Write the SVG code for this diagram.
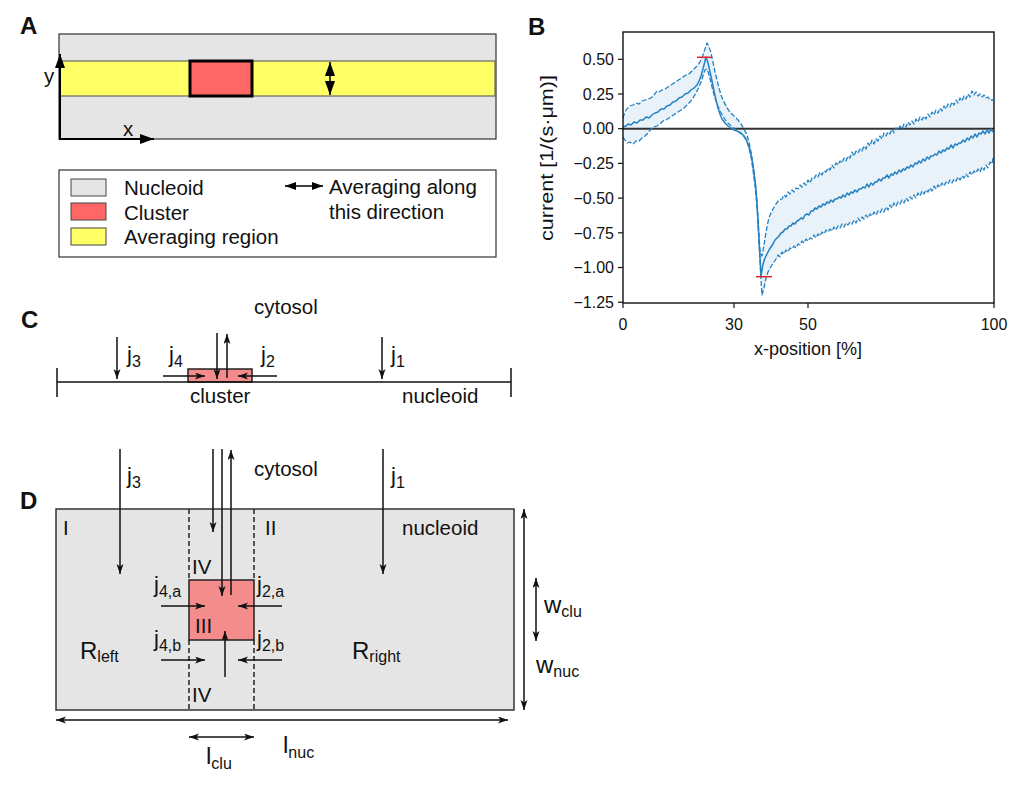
<svg xmlns="http://www.w3.org/2000/svg" width="1015" height="786" viewBox="0 0 1015 786">
<style>
text{font-family:"Liberation Sans",Arial,sans-serif;fill:#111}
.lbl{font-size:20.5px}
.jl{font-size:22px}
.pl{font-size:24px;font-weight:bold}
.tk{font-size:16px}
.ax{font-size:18px}
.big{font-size:24px}
.sub{font-size:16px}
.sub2{font-size:16px}
.ln{stroke:#111;stroke-width:1.5;fill:none}
.nuc{fill:#e5e5e5;stroke:#333;stroke-width:1.5}
.clu{fill:#f48c8c;stroke:#222;stroke-width:1.5}
.dash{stroke:#222;stroke-width:1.5;stroke-dasharray:5 3;fill:none}
.blue{stroke:#2380c2;fill:none;stroke-width:1.5;stroke-linejoin:round}
.bd{stroke:#2380c2;fill:none;stroke-width:1.3;stroke-dasharray:5 2;stroke-linejoin:round}
</style>
<defs>
<marker id="ah" markerUnits="userSpaceOnUse" markerWidth="10" markerHeight="8" refX="10" refY="3.5" orient="auto-start-reverse"><path d="M0,0 L10,3.5 L0,7 L2.5,3.5 Z" fill="#111"/></marker>
<marker id="bigA" markerUnits="userSpaceOnUse" markerWidth="15" markerHeight="10" refX="14" refY="5" orient="auto-start-reverse"><path d="M0,0 L14,5 L0,10 Z" fill="#000"/></marker>
<marker id="leg" markerUnits="userSpaceOnUse" markerWidth="11" markerHeight="8" refX="11" refY="4" orient="auto-start-reverse"><path d="M0,0 L11,4 L0,8 Z" fill="#000"/></marker>
</defs>

<!-- Panel A -->
<g id="panelA">
<text class="pl" x="20" y="34">A</text>
<rect x="59" y="34" width="437" height="105" fill="#e5e5e5" stroke="#333" stroke-width="1.2"/>
<rect x="60" y="61" width="435" height="35" fill="#ffff66" stroke="#666" stroke-width="1.2"/>
<rect x="190" y="61" width="62" height="35" fill="#ff6666" stroke="#000" stroke-width="3"/>
<text class="lbl" x="44" y="83">y</text>
<text class="lbl" x="123" y="136">x</text>
</g>
<g id="legendA">
<rect x="59" y="170" width="437" height="87" fill="#fff" stroke="#333" stroke-width="1.2"/>
<rect x="71" y="179" width="35" height="17" fill="#e5e5e5" stroke="#444" stroke-width="1"/>
<rect x="71" y="203" width="35" height="17" fill="#ff6666" stroke="#444" stroke-width="1"/>
<rect x="71" y="228" width="35" height="17" fill="#ffff66" stroke="#444" stroke-width="1"/>
<text class="lbl" x="124" y="195">Nucleoid</text>
<text class="lbl" x="124" y="220">Cluster</text>
<text class="lbl" x="124" y="244">Averaging region</text>
<text class="lbl" x="329" y="194">Averaging along</text>
<text class="lbl" x="329" y="219">this direction</text>
</g>

<!-- Panel B -->
<g id="panelB">
<text class="pl" x="528" y="35">B</text>
<polygon fill="#2380c2" fill-opacity="0.1" points="623,118 633,105 648,99 665,89 683,77 698,65 707,43 713,62 721,95 732,114 744,129 751,152 755,181 758,218 760,250 762,256 766,232 773,209 780,200 797,190 813,178 830,167 847,157 863,147 880,136 897,128 913,122 930,116 947,107 963,98 973,92 985,96 993,100 993,158 980,171 960,179 937,189 913,197 887,209 860,220 837,228 820,235 803,242 787,251 776,259 770,268 764,288 762,295 760,260 758,222 755,186 751,157 747,142 741,133 732,127 720,111 711,83 707,69 703,76 699,87 693,98 684,108 672,116 660,124 648,133 639,141 630,142 623,137"/>
<line x1="623" y1="128.7" x2="994" y2="128.7" stroke="#333" stroke-width="2"/>
<path class="blue" d="M623,127 L626,126 L628,124 L631,125 L634,122 L637,123 L640,120 L643,120 L646,117 L649,118 L652,115 L655,113 L658,112 L661,109 L664,109 L667,106 L670,105 L673,102 L676,101 L679,98 L682,97 L685,94 L688,93 L691,90 L694,88 L697,85 L699,81 L701,76 L703,69 L705,61 L706,57 L708,63 L710,72 L712,81 L714,91 L716,100 L718,108 L720,114 L722,119 L725,123 L728,126 L731,128 L734,130 L737,131 L740,133 L743,135 L746,139 L748,144 L750,150 L752,159 L754,172 L756,190 L757,205 L758,222 L759,240 L760,258 L761,276 L762,270 L763,264 L765,258 L767,254 L769,250 L771,247 L773,244 L775,240 L777,238 L779,236 L781,233 L783,232 L785,229 L787,229 L789,226 L791,226 L793,223 L795,224 L797,221 L799,220 L801,218 L803,219 L805,215 L807,214 L809,215 L811,211 L813,211 L815,208 L817,209 L819,206 L821,207 L823,204 L825,205 L827,202 L829,203 L831,200 L833,202 L835,199 L837,199 L839,197 L841,198 L843,195 L845,197 L847,193 L849,195 L851,192 L853,193 L855,190 L857,192 L859,189 L861,189 L863,187 L865,188 L867,184 L869,187 L871,183 L873,185 L875,182 L877,182 L879,179 L881,181 L883,178 L885,178 L887,175 L889,178 L891,174 L893,175 L895,172 L897,174 L899,170 L901,172 L903,169 L905,170 L907,167 L909,168 L911,165 L913,167 L915,163 L917,164 L919,161 L921,163 L923,159 L925,161 L927,157 L929,159 L931,156 L933,156 L935,154 L937,155 L939,151 L941,153 L943,150 L945,151 L947,148 L949,149 L951,145 L953,148 L955,144 L957,145 L959,143 L961,143 L963,140 L965,142 L967,138 L969,140 L971,136 L973,138 L975,134 L977,137 L979,133 L981,134 L983,131 L985,134 L987,130 L989,133 L991,129 L993,132"/>
<path class="bd" d="M623,118 L625,112 L627,109 L630,106 L633,105 L636,103 L639,104 L642,101 L645,100 L648,99 L651,98 L654,95 L657,91 L659,92 L662,90 L665,89 L668,87 L671,85 L674,83 L677,81 L680,79 L683,77 L686,75 L689,74 L692,71 L695,68 L698,65 L700,62 L702,58 L704,52 L706,46 L707,43 L709,47 L711,53 L713,62 L715,72 L717,80 L719,88 L721,95 L723,100 L726,106 L729,111 L732,114 L735,117 L738,120 L741,124 L744,129 L747,135 L749,142 L751,152 L753,165 L755,181 L757,200 L758,218 L759,236 L760,250 L762,256 L764,245 L766,232 L768,222 L770,215 L773,209 L776,204 L779,200 L782,199 L784,195 L786,197 L788,192 L790,194 L792,190 L794,192 L796,188 L798,189 L800,185 L802,187 L804,183 L806,185 L808,180 L810,183 L812,178 L814,179 L816,175 L818,177 L820,172 L822,175 L824,171 L826,172 L828,168 L830,170 L832,165 L834,168 L836,163 L838,165 L840,161 L842,163 L844,158 L846,161 L848,156 L850,158 L852,152 L854,156 L856,151 L858,153 L860,149 L862,151 L864,146 L866,149 L868,143 L870,146 L872,140 L874,144 L876,139 L878,141 L880,136 L882,139 L884,133 L886,136 L888,132 L890,134 L892,129 L894,133 L896,128 L898,130 L900,126 L902,129 L904,124 L906,127 L908,122 L910,125 L912,121 L914,124 L916,119 L918,122 L920,117 L922,120 L924,116 L926,119 L928,114 L930,117 L932,112 L934,115 L936,110 L938,113 L940,108 L942,111 L944,106 L946,109 L948,104 L950,107 L952,102 L954,105 L956,100 L958,103 L960,98 L962,101 L964,96 L966,99 L968,94 L970,97 L972,91 L974,95 L976,92 L978,96 L980,94 L982,97 L984,95 L986,98 L988,97 L990,100 L993,100"/>
<path class="bd" d="M623,137 L625,140 L627,143 L630,142 L633,144 L636,141 L639,141 L642,138 L645,136 L648,133 L651,129 L654,127 L657,126 L660,124 L663,121 L666,120 L669,118 L672,116 L675,114 L678,112 L681,110 L684,108 L687,105 L690,102 L693,98 L696,93 L699,87 L701,82 L703,76 L705,70 L707,69 L709,75 L711,83 L713,91 L715,98 L717,104 L720,111 L723,116 L726,121 L729,124 L732,127 L735,129 L738,131 L741,133 L744,136 L747,142 L749,148 L751,157 L753,170 L755,186 L757,205 L758,222 L759,240 L760,260 L761,280 L762,295 L764,288 L766,278 L768,272 L770,268 L772,265 L774,262 L776,259 L778,255 L780,257 L782,252 L784,254 L786,250 L788,252 L790,248 L792,249 L794,246 L796,248 L798,244 L800,245 L802,241 L804,243 L806,239 L808,241 L810,238 L812,239 L814,235 L816,238 L818,234 L820,236 L822,232 L824,234 L826,230 L828,232 L830,229 L832,231 L834,227 L836,230 L838,226 L840,228 L842,224 L844,227 L846,223 L848,225 L850,222 L852,224 L854,220 L856,223 L858,218 L860,221 L862,217 L864,219 L866,215 L868,218 L870,214 L872,216 L874,212 L876,215 L878,211 L880,213 L882,209 L884,212 L886,207 L888,210 L890,205 L892,208 L894,203 L896,206 L898,202 L900,204 L902,200 L904,203 L906,198 L908,201 L910,197 L912,199 L914,195 L916,198 L918,193 L920,196 L922,191 L924,194 L926,190 L928,192 L930,188 L932,191 L934,186 L936,189 L938,185 L940,187 L942,183 L944,186 L946,182 L948,184 L950,180 L952,183 L954,179 L956,181 L958,177 L960,180 L962,176 L964,178 L966,174 L968,177 L970,172 L972,175 L974,171 L976,173 L978,169 L980,172 L982,167 L984,170 L986,165 L988,168 L990,162 L992,164 L993,158"/>
<line x1="697" y1="57.3" x2="712" y2="57.3" stroke="#e8202a" stroke-width="1.5"/>
<line x1="756" y1="276.7" x2="772" y2="276.7" stroke="#e8202a" stroke-width="1.5"/>
<rect x="623" y="32" width="371" height="271" fill="none" stroke="#111" stroke-width="1.4"/>
<g stroke="#111" stroke-width="1.2">
<line x1="618" y1="59.3" x2="623" y2="59.3"/><line x1="618" y1="94" x2="623" y2="94"/><line x1="618" y1="128.7" x2="623" y2="128.7"/><line x1="618" y1="163.4" x2="623" y2="163.4"/><line x1="618" y1="198.1" x2="623" y2="198.1"/><line x1="618" y1="232.8" x2="623" y2="232.8"/><line x1="618" y1="267.5" x2="623" y2="267.5"/><line x1="618" y1="302.2" x2="623" y2="302.2"/>
<line x1="623" y1="303" x2="623" y2="308"/><line x1="734" y1="303" x2="734" y2="308"/><line x1="808" y1="303" x2="808" y2="308"/><line x1="994" y1="303" x2="994" y2="308"/>
</g>
<g text-anchor="end">
<text class="tk" x="614" y="65">0.50</text><text class="tk" x="614" y="99.7">0.25</text><text class="tk" x="614" y="134.4">0.00</text><text class="tk" x="614" y="169.1">−0.25</text><text class="tk" x="614" y="203.8">−0.50</text><text class="tk" x="614" y="238.5">−0.75</text><text class="tk" x="614" y="273.2">−1.00</text><text class="tk" x="614" y="307.9">−1.25</text>
</g>
<g text-anchor="middle">
<text class="tk" x="623" y="330">0</text><text class="tk" x="734" y="330">30</text><text class="tk" x="808" y="330">50</text><text class="tk" x="994" y="330">100</text>
<text class="ax" x="808" y="355">x-position [%]</text>
<text class="ax" transform="translate(553,158) rotate(-90)" textLength="166" lengthAdjust="spacingAndGlyphs">current [1/(s·μm)]</text>
</g>
</g>

<!-- Panel C -->
<g id="panelC">
<text class="pl" x="21" y="328">C</text>
<text class="lbl" x="254" y="314">cytosol</text>
<rect class="clu" x="188" y="369" width="64" height="13"/>
<text class="lbl" x="190" y="403">cluster</text>
<text class="lbl" x="402" y="403">nucleoid</text>
<text class="jl" x="127" y="362">j<tspan class="sub" dy="5">3</tspan></text>
<text class="jl" x="169" y="362">j<tspan class="sub" dy="5">4</tspan></text>
<text class="jl" x="261" y="362">j<tspan class="sub" dy="5">2</tspan></text>
<text class="jl" x="391" y="362">j<tspan class="sub" dy="5">1</tspan></text>
</g>

<!-- Panel D -->
<g id="panelD">
<text class="pl" x="20" y="509">D</text>
<rect class="nuc" x="56" y="509" width="458" height="201"/>
<rect class="clu" x="189" y="580" width="65" height="60"/>
<text class="lbl" x="254" y="476">cytosol</text>
<text class="jl" x="127" y="483">j<tspan class="sub" dy="5">3</tspan></text>
<text class="jl" x="391" y="483">j<tspan class="sub" dy="5">1</tspan></text>
<text class="lbl" x="63" y="535">I</text>
<text class="lbl" x="265" y="535">II</text>
<text class="lbl" x="402" y="535">nucleoid</text>
<text class="lbl" x="192" y="574">IV</text>
<text class="lbl" x="192" y="702">IV</text>
<text class="lbl" x="195" y="633">III</text>
<text class="jl" x="154" y="592">j<tspan class="sub" dy="5">4,a</tspan></text>
<text class="jl" x="257" y="592">j<tspan class="sub" dy="5">2,a</tspan></text>
<text class="jl" x="154" y="646">j<tspan class="sub" dy="5">4,b</tspan></text>
<text class="jl" x="257" y="646">j<tspan class="sub" dy="5">2,b</tspan></text>
<text class="big" x="80" y="659">R<tspan class="sub2" dy="3">left</tspan></text>
<text class="big" x="352" y="659">R<tspan class="sub2" dy="3">right</tspan></text>
<text class="big" x="544" y="613">w<tspan class="sub2" dy="4">clu</tspan></text>
<text class="big" x="536" y="673">w<tspan class="sub2" dy="4">nuc</tspan></text>
<text class="big" x="206" y="764">l<tspan class="sub2" dy="5">clu</tspan></text>
<text class="big" x="283" y="753">l<tspan class="sub2" dy="5">nuc</tspan></text>
</g>

<!-- Connectors -->
<g id="connectors">
<!-- A -->
<line x1="60" y1="139" x2="60" y2="54" stroke="#000" stroke-width="2" marker-end="url(#bigA)"/>
<line x1="59" y1="139" x2="154" y2="139" stroke="#000" stroke-width="2" marker-end="url(#bigA)"/>
<line x1="330" y1="62" x2="330" y2="95" stroke="#000" stroke-width="1.5" marker-start="url(#bigA)" marker-end="url(#bigA)"/>
<line x1="285" y1="186" x2="323" y2="186" stroke="#000" stroke-width="1.5" marker-start="url(#leg)" marker-end="url(#leg)"/>
<!-- C -->
<line class="ln" x1="57" y1="382" x2="511" y2="382"/>
<line class="ln" x1="57" y1="368" x2="57" y2="397"/>
<line class="ln" x1="511" y1="368" x2="511" y2="397"/>
<line class="ln" x1="117" y1="337" x2="117" y2="379" marker-end="url(#ah)"/>
<line class="ln" x1="382" y1="337" x2="382" y2="379" marker-end="url(#ah)"/>
<line class="ln" x1="217" y1="333" x2="217" y2="379" marker-end="url(#ah)"/>
<line class="ln" x1="227" y1="378" x2="227" y2="334" marker-end="url(#ah)"/>
<line class="ln" x1="163" y1="376" x2="205" y2="376" marker-end="url(#ah)"/>
<line class="ln" x1="277" y1="376" x2="238" y2="376" marker-end="url(#ah)"/>
<!-- D -->
<line class="dash" x1="189" y1="509" x2="189" y2="580"/>
<line class="dash" x1="254" y1="509" x2="254" y2="580"/>
<line class="dash" x1="189" y1="640" x2="189" y2="710"/>
<line class="dash" x1="254" y1="640" x2="254" y2="710"/>
<line class="ln" x1="120" y1="449" x2="120" y2="574" marker-end="url(#ah)"/>
<line class="ln" x1="383" y1="449" x2="383" y2="574" marker-end="url(#ah)"/>
<line class="ln" x1="213" y1="449" x2="213" y2="532" marker-end="url(#ah)"/>
<line class="ln" x1="222" y1="449" x2="222" y2="596" marker-end="url(#ah)"/>
<line class="ln" x1="231" y1="595" x2="231" y2="450" marker-end="url(#ah)"/>
<line class="ln" x1="161" y1="606" x2="205" y2="606" marker-end="url(#ah)"/>
<line class="ln" x1="282" y1="606" x2="238" y2="606" marker-end="url(#ah)"/>
<line class="ln" x1="161" y1="660" x2="205" y2="660" marker-end="url(#ah)"/>
<line class="ln" x1="282" y1="660" x2="238" y2="660" marker-end="url(#ah)"/>
<line class="ln" x1="225" y1="677" x2="225" y2="631" marker-end="url(#ah)"/>
<line class="ln" x1="524" y1="509" x2="524" y2="710" marker-start="url(#ah)" marker-end="url(#ah)"/>
<line class="ln" x1="536" y1="578" x2="536" y2="641" marker-start="url(#ah)" marker-end="url(#ah)"/>
<line class="ln" x1="56" y1="720" x2="508" y2="720" marker-start="url(#ah)" marker-end="url(#ah)"/>
<line class="ln" x1="189" y1="737" x2="254" y2="737" marker-start="url(#ah)" marker-end="url(#ah)"/>
</g>
</svg>
